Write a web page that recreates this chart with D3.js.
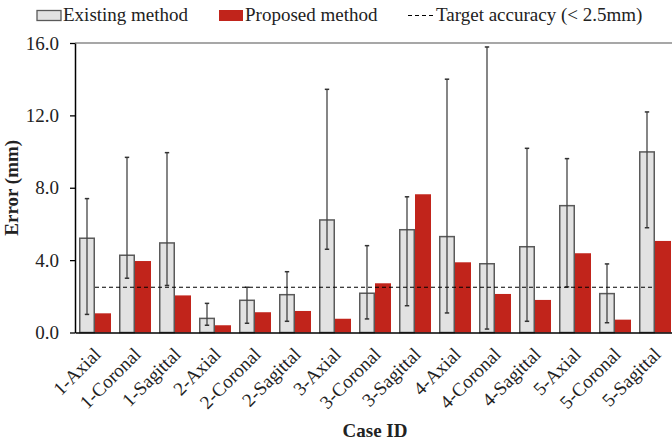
<!DOCTYPE html>
<html>
<head>
<meta charset="utf-8">
<script src="https://cdn.jsdelivr.net/npm/d3@7"></script>
<style>
  html, body { margin: 0; padding: 0; background: #fff; }
  svg { display: block; font-family: "Liberation Serif", "Times New Roman", serif; }
</style>
</head>
<body>
<svg id="chart" width="672" height="440"></svg>
<script>
// Case labels (case number + imaging plane)
const categories = [
  "1-Axial", "1-Coronal", "1-Sagittal",
  "2-Axial", "2-Coronal", "2-Sagittal",
  "3-Axial", "3-Coronal", "3-Sagittal",
  "4-Axial", "4-Coronal", "4-Sagittal",
  "5-Axial", "5-Coronal", "5-Sagittal"
];
// Mean error of the existing method (mm)
const existingMean = [5.21, 4.27, 4.95, 0.78, 1.78, 2.09, 6.22, 2.17, 5.68, 5.30, 3.80, 4.74, 7.01, 2.15, 9.98];
// Error bar extents for the existing method (mm)
const existingLow  = [1.00, 3.00, 2.60, 0.40, 0.51, 0.62, 4.60, 0.75, 1.48, 1.08, 0.19, 0.62, 2.52, 0.54, 5.79];
const existingHigh = [7.40, 9.68, 9.94, 1.61, 2.50, 3.36, 13.44, 4.80, 7.50, 14.00, 15.78, 10.18, 9.61, 3.79, 12.19];
// Mean error of the proposed method (mm)
const proposedMean = [1.06, 3.95, 2.05, 0.40, 1.12, 1.19, 0.76, 2.72, 7.64, 3.88, 2.13, 1.80, 4.38, 0.71, 5.06];
// Target accuracy threshold (mm)
const targetAccuracy = 2.5;
// Y axis tick values
const yTicks = [0, 4, 8, 12, 16];

const FONT = "Liberation Serif";
const GRAY = "#e2e2e2", GRAY_STROKE = "#5a5a5a", RED = "#c1241b";

const svg = d3.select("#chart");
const plotLeft = 75, plotRight = 675, plotTop = 43, plotBottom = 332.5;

const x0 = d3.scaleBand().domain(categories).range([plotLeft, plotRight]);
const x1 = d3.scaleBand().domain(["existing", "proposed"]).range([4, 36]);
const y = d3.scaleLinear().domain([0, 16]).range([plotBottom, plotTop]);

// Frame: top border
svg.append("line")
  .attr("x1", plotLeft).attr("x2", 672).attr("y1", plotTop).attr("y2", plotTop)
  .attr("stroke", "#8a8a8a").attr("stroke-width", 1.5);

const rows = categories.map((c, i) => ({
  c, em: existingMean[i], lo: existingLow[i], hi: existingHigh[i], pm: proposedMean[i]
}));

const g = svg.append("g");
const groups = g.selectAll("g.case").data(rows).join("g")
  .attr("class", "case")
  .attr("transform", d => `translate(${x0(d.c)},0)`);

// Existing method bars
groups.append("rect")
  .attr("x", x1("existing") + 0.75)
  .attr("width", x1.bandwidth() - 1.5)
  .attr("y", d => y(d.em))
  .attr("height", d => y(0) - y(d.em))
  .attr("fill", GRAY).attr("stroke", GRAY_STROKE).attr("stroke-width", 1.5);

// Proposed method bars
groups.append("rect")
  .attr("x", x1("proposed"))
  .attr("width", x1.bandwidth())
  .attr("y", d => y(d.pm))
  .attr("height", d => y(0) - y(d.pm))
  .attr("fill", RED);

// Error bars on existing method
const ex = x1("existing") + x1.bandwidth() / 2;
groups.append("line")
  .attr("x1", ex).attr("x2", ex)
  .attr("y1", d => y(d.lo)).attr("y2", d => y(d.hi))
  .attr("stroke", "#444").attr("stroke-width", 1.3);
["lo", "hi"].forEach(k => {
  groups.append("line")
    .attr("x1", ex - 2.2).attr("x2", ex + 2.2)
    .attr("y1", d => y(d[k])).attr("y2", d => y(d[k]))
    .attr("stroke", "#333").attr("stroke-width", 1.5);
});

// Target accuracy line
svg.append("line")
  .attr("x1", x0(categories[0]) + x0.bandwidth() / 2)
  .attr("x2", x0(categories[categories.length - 1]) + x0.bandwidth() / 2)
  .attr("y1", y(targetAccuracy)).attr("y2", y(targetAccuracy))
  .attr("stroke", "#000").attr("stroke-width", 1.2)
  .attr("stroke-dasharray", "4,3");

// Y axis
const yAxis = svg.append("g")
  .attr("transform", `translate(${plotLeft},0)`)
  .call(d3.axisLeft(y).tickValues(yTicks).tickFormat(d3.format(".1f"))
    .tickSize(5).tickSizeOuter(0).tickPadding(11))
  .attr("font-family", FONT).attr("font-size", 19);
yAxis.select(".domain").attr("stroke", "#000").attr("stroke-width", 1.5);
yAxis.selectAll(".tick line").attr("stroke", "#000").attr("stroke-width", 1.3);
yAxis.selectAll(".tick text").attr("fill", "#222");

// X axis
const xAxis = svg.append("g")
  .attr("transform", `translate(0,${plotBottom})`)
  .call(d3.axisBottom(x0).tickSize(0).tickSizeOuter(0).tickPadding(0))
  .attr("font-family", FONT).attr("font-size", 19);
xAxis.select(".domain").attr("stroke", "#000").attr("stroke-width", 1.5);
xAxis.selectAll(".tick text")
  .attr("fill", "#222")
  .attr("text-anchor", "end")
  .attr("dy", null)
  .attr("y", 0)
  .attr("transform", "translate(7,23) rotate(-45)");

// Axis titles
svg.append("text")
  .attr("transform", `translate(18,${(plotTop + plotBottom) / 2}) rotate(-90)`)
  .attr("text-anchor", "middle")
  .attr("font-family", FONT)
  .attr("font-size", 19).attr("font-weight", "bold").attr("fill", "#222")
  .text("Error (mm)");
svg.append("text")
  .attr("x", 375).attr("y", 437)
  .attr("text-anchor", "middle")
  .attr("font-family", FONT)
  .attr("font-size", 19).attr("font-weight", "bold").attr("fill", "#222")
  .text("Case ID");

// Legend
const legend = svg.append("g").attr("font-family", FONT).attr("font-size", 19).attr("fill", "#222");
legend.append("rect").attr("x", 37).attr("y", 10.5).attr("width", 24).attr("height", 10)
  .attr("fill", GRAY).attr("stroke", GRAY_STROKE).attr("stroke-width", 1.3);
legend.append("text").attr("x", 63).attr("y", 21).text("Existing method");
legend.append("rect").attr("x", 219).attr("y", 10).attr("width", 24).attr("height", 11)
  .attr("fill", RED);
legend.append("text").attr("x", 245).attr("y", 21).text("Proposed method");
legend.append("line").attr("x1", 408).attr("x2", 434).attr("y1", 15.5).attr("y2", 15.5)
  .attr("stroke", "#000").attr("stroke-width", 1).attr("stroke-dasharray", "4,3");
legend.append("text").attr("x", 436).attr("y", 21).text("Target accuracy (< 2.5mm)");
</script>
</body>
</html>
